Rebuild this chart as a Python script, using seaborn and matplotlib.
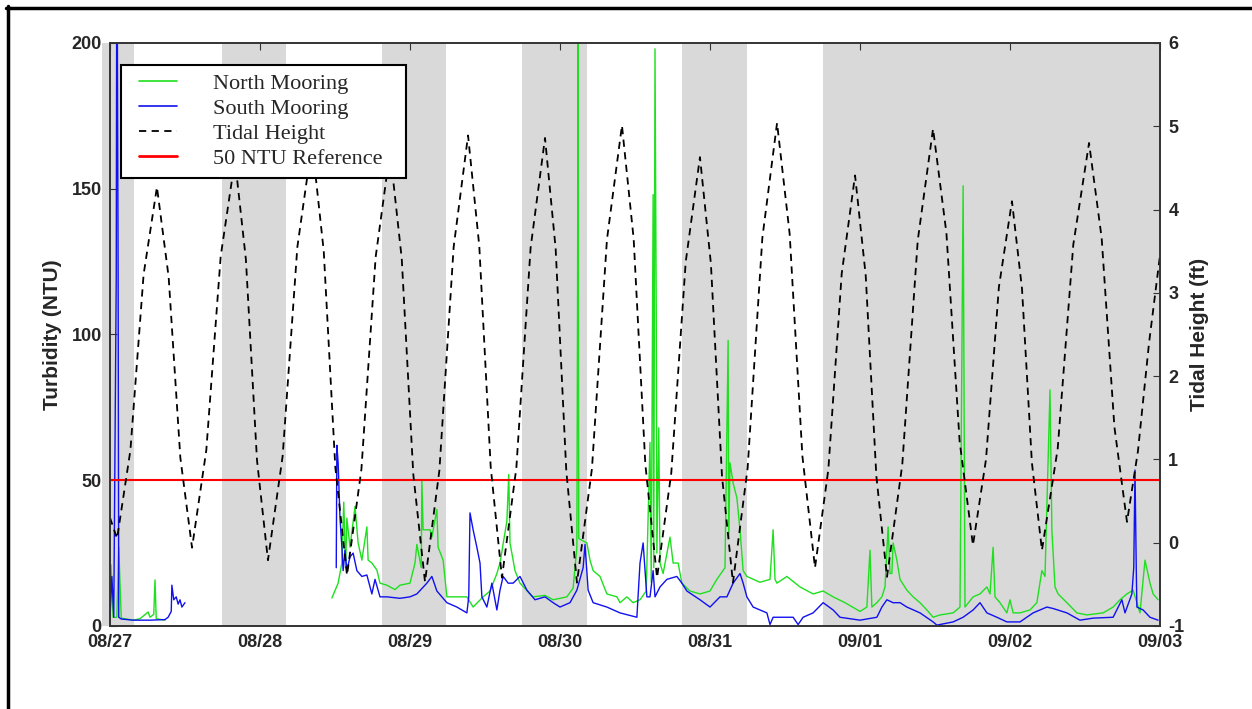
import numpy as np
import pandas as pd
import matplotlib
matplotlib.use("Agg")
import matplotlib.pyplot as plt
from matplotlib.lines import Line2D
from matplotlib.patches import Rectangle
import seaborn as sns

nan = np.nan

# ===================================
# Data (hours since 08/27 00:00)
# ===================================

north_hr = [0.0, 0.16, 0.5, 1.1, 1.4, 1.8, 3.7, 4.8, 6.1, 6.4, 7.0, 7.2, 7.4, 8.8, nan,
            35.5, 36.5, 37.1, 37.4, 37.7, 37.9, 38.4, 39.2, 39.7, 40.3,
            41.1, 41.3, 41.9, 42.7, 43.2, 44.3, 45.6, 46.4, 48.0, 48.8,
            49.1, 49.8, 49.9, 50.1, 51.2, 51.5, 52.3, 52.5, 53.3, 53.9,
            55.2, 57.1, 58.1, 59.7, 60.8, 61.9, 62.4, 63.5, 63.8, 64.0,
            64.8, 65.6, 67.2, 67.7, 69.6, 70.9, 73.1, 74.1, 74.7, 74.8,
            74.9, 75.0, 76.3, 76.8, 77.3, 78.4, 79.5, 81.1, 81.6, 82.7,
            83.7, 84.8, 85.8, 86.4, 86.6, 86.9, 87.0, 87.2, 87.4, 87.5,
            87.8, 88.0, 88.5, 89.6, 90.1, 90.9, 91.5, 92.8, 94.4, 96.0,
            97.1, 98.4, 98.9, 99.0, 99.2, 99.7, 100.3, 100.8, 101.3, 101.9,
            104.0, 105.6, 106.1, 106.4, 106.7, 108.3, 110.4, 112.5, 114.1, 115.7,
            117.6, 120.0, 121.1, 121.6, 121.9, 122.7, 123.5, 124.0, 124.5, 124.8,
            125.1, 125.3, 125.9, 126.4, 127.5, 128.5, 129.6, 130.7, 131.7, 132.8,
            134.9, 136.0, 136.5, 136.8, 138.1, 139.2, 140.3, 140.8, 141.3, 141.6,
            142.4, 143.5, 144.0, 144.5, 145.6, 147.2, 148.3, 149.1, 149.6, 150.4,
            150.7, 151.2, 151.7, 153.1, 154.7, 156.3, 158.9, 160.5, 161.6, 162.7,
            163.7, 164.8, 165.6, 166.4, 166.9, 167.7]
north_ntu = [5, 21, 3, 3, 27, 2.7, 2, 2.5, 4.8, 3, 4, 15.8, 2.5, 2, nan,
             9.6, 14.7, 21.6, 42.5, 20, 37, 27, 41, 28.5, 22.6,
             34, 22.6, 21.6, 19.2, 14.7, 14, 12.5, 14, 14.7, 21.6,
             28, 20, 50, 33, 33, 30.5, 40, 27, 22.6, 10,
             10, 10, 6.5, 10, 12, 18, 21.6, 36, 52, 28.5,
             19, 14.7, 11, 10, 10.5, 9, 10, 13, 27, 106,
             215, 30, 28.5, 22.6, 19, 17, 11, 10, 8, 10,
             8, 9, 12, 63, 15, 148, 20, 198, 107, 25,
             68, 21.6, 18, 30.5, 21.6, 21.6, 14.7, 12, 11, 12,
             16, 20, 98, 30, 56, 49, 44, 33, 19, 17,
             15, 16, 33, 16, 14.7, 17, 13.4, 11, 12, 10,
             8, 5, 6.5, 26, 6.5, 8, 10, 13.4, 34, 18,
             18, 28.5, 22.6, 16, 12.3, 10, 8, 5.5, 3, 3.8,
             4.5, 6.5, 151, 6.5, 10, 11, 13.4, 11, 27, 10,
             8, 4.5, 9, 4.5, 4.5, 5.5, 8, 19, 17, 81,
             33, 13.4, 11, 8, 4.5, 3.8, 4.5, 6.5, 9, 11,
             12.3, 4.5, 22.6, 14.7, 11, 9]

south_hr = [0.0, 0.3, 0.6, 1.0, 1.1, 1.3, 1.4, 1.8, 3.7, 6.4,
            8.8, 9.3, 9.8, 9.9, 10.2, 10.6, 10.9, 11.2, 11.5, 12.0, nan,
            36.2, 36.3, 36.5, 36.8, 37.1, 37.3, 37.6, 37.9, 38.4, 38.9,
            39.5, 40.3, 41.1, 41.9, 42.4, 43.2, 44.3, 46.4, 48.0, 49.1,
            50.7, 51.5, 52.3, 53.9, 55.5, 57.1, 57.4, 57.6, 58.1, 58.7,
            59.2, 59.5, 60.3, 61.1, 61.9, 62.4, 62.9, 63.7, 64.5, 65.6,
            66.7, 68.0, 69.6, 70.9, 72.0, 73.6, 74.7, 75.7, 76.0, 76.5,
            77.3, 79.5, 81.6, 84.3, 84.8, 85.3, 85.9, 86.4, 86.9, 87.2,
            88.0, 89.1, 90.7, 91.5, 92.3, 94.4, 96.0, 97.6, 98.7, 99.7,
            100.8, 101.3, 101.9, 102.9, 105.1, 105.6, 106.1, 106.7, 109.3, 110.1,
            110.9, 112.5, 114.1, 115.7, 116.8, 120.0, 122.7, 123.5, 124.3, 125.3,
            126.4, 127.5, 129.6, 131.7, 132.3, 134.9, 136.5, 138.1, 139.2, 140.3,
            141.9, 143.5, 145.6, 147.7, 149.9, 150.9, 153.1, 155.2, 157.3, 160.5,
            161.9, 162.4, 163.5, 163.8, 164.0, 164.2, 164.3, 165.3, 166.4, 167.7]
south_ntu = [3, 17, 3, 120, 260, 120, 3, 2.4, 2, 2,
             2.2, 3, 5, 14, 9, 10, 7.5, 9, 6.5, 8, nan,
             20, 62, 56, 37, 27, 19, 26, 19, 23.7, 25,
             19, 17, 17.5, 11, 16, 10, 10, 9.5, 10, 11,
             14.7, 17, 12, 8, 6.5, 4.5, 10, 38.8, 33, 27,
             21.6, 10, 6.5, 14.7, 5.5, 12.3, 17, 14.7, 14.7, 17,
             12.3, 9, 10, 8, 6.5, 8, 12.3, 20, 28, 12.3,
             8, 6.5, 4.5, 3, 21.6, 28.5, 10, 10, 19, 10,
             13.4, 16, 17, 14.7, 12, 9, 6.5, 10, 10, 14.7,
             18, 14.7, 10, 6.5, 4.5, 0.5, 3, 3, 3, 0.5,
             3, 4.5, 8, 5.5, 3, 2, 3, 6.5, 9, 8,
             8, 6.5, 4.5, 1.4, 0.3, 1.4, 3, 5.5, 8, 4.5,
             3, 1.4, 1.4, 4.5, 6.5, 6, 4.5, 2, 2.7, 3,
             9, 4.5, 11, 20, 53.5, 20, 6.5, 5.5, 3, 2]

# tide in days since 08/27 00:00, height in ft
tide_day = [0.000, 0.047, 0.136, 0.224, 0.313, 0.391, 0.469, 0.547, 0.642, 0.738,
            0.833, 0.906, 0.980, 1.053, 1.151, 1.249, 1.347, 1.425, 1.502, 1.580,
            1.676, 1.771, 1.867, 1.945, 2.022, 2.100, 2.196, 2.291, 2.387, 2.462,
            2.538, 2.613, 2.709, 2.804, 2.900, 2.971, 3.042, 3.113, 3.213, 3.313,
            3.413, 3.491, 3.569, 3.647, 3.742, 3.838, 3.933, 4.006, 4.080, 4.153,
            4.251, 4.349, 4.447, 4.531, 4.616, 4.700, 4.789, 4.878, 4.967, 5.038,
            5.109, 5.180, 5.282, 5.385, 5.487, 5.576, 5.664, 5.753, 5.840, 5.926,
            6.013, 6.080, 6.146, 6.213, 6.318, 6.422, 6.527, 6.611, 6.696, 6.780,
            6.853, 6.927, 7.000]
tide_ft = [0.30, 0.05, 1.11, 3.22, 4.27, 3.19, 1.02, -0.06, 1.11, 3.44,
           4.60, 3.40, 0.99, -0.21, 1.04, 3.55, 4.80, 3.50, 0.91, -0.39,
           0.88, 3.43, 4.70, 3.41, 0.82, -0.47, 0.87, 3.55, 4.89, 3.56,
           0.91, -0.42, 0.90, 3.54, 4.86, 3.53, 0.86, -0.48, 0.89, 3.64,
           5.01, 3.65, 0.94, -0.42, 0.84, 3.37, 4.63, 3.35, 0.80, -0.48,
           0.90, 3.66, 5.04, 3.71, 1.04, -0.30, 0.88, 3.23, 4.41, 3.21,
           0.80, -0.41, 0.94, 3.63, 4.97, 3.72, 1.22, -0.03, 1.00, 3.07,
           4.10, 3.05, 0.96, -0.09, 1.13, 3.58, 4.80, 3.66, 1.39, 0.25,
           1.10, 2.40, 3.45]

# night periods (hours)
night_start = [-1.3, 17.9, 43.5, 65.9, 91.5, 114.1]
night_end = [3.8, 28.2, 53.8, 76.3, 101.9, 168.0]

day_labels = ["08/27", "08/28", "08/29", "08/30", "08/31", "09/01", "09/02", "09/03"]
reference_ntu = 50


def to_frame(hr, val):
    df = pd.DataFrame({"hour": hr, "value": val})
    df["seg"] = df["value"].isna().cumsum()
    return df.dropna()


north = to_frame(north_hr, north_ntu)
south = to_frame(south_hr, south_ntu)
tide = pd.DataFrame({"hour": np.array(tide_day) * 24, "value": tide_ft})

# ===================================
# Style
# ===================================

sns.set_style("white")
plt.rcParams["font.family"] = ["Liberation Sans", "DejaVu Sans"]
plt.rcParams["axes.unicode_minus"] = False

GREEN = "#1ee01e"
BLUE = "#1010f0"

fig = plt.figure(figsize=(12.52, 7.09), dpi=100)
ax = fig.add_axes([110 / 1252, 1 - 626 / 709, 1050 / 1252, 583 / 709])

for s, e in zip(night_start, night_end):
    ax.axvspan(s, e, color="#d9d9d9", lw=0, zorder=0, clip_on=False)

sns.lineplot(data=north, x="hour", y="value", units="seg", estimator=None,
             sort=False, color=GREEN, linewidth=1.0, ax=ax)
sns.lineplot(data=south, x="hour", y="value", units="seg", estimator=None,
             sort=False, color=BLUE, linewidth=1.0, ax=ax)
ax.axhline(reference_ntu, color="red", linewidth=1.5, zorder=3)

ax.set_xlim(0, 168)
ax.set_ylim(0, 200)
ax.set_xticks(np.arange(0, 169, 24))
ax.set_xticklabels(day_labels)
ax.set_yticks([0, 50, 100, 150, 200])
ax.set_xlabel("")
ax.set_ylabel("Turbidity (NTU)", fontsize=15, fontweight="bold", labelpad=7)
ax.tick_params(direction="in", length=5, top=True, right=False,
               labelsize=13, pad=6, color="#333333")
for lab in ax.get_xticklabels() + ax.get_yticklabels():
    lab.set_fontweight("bold")

# ===================================
# Tidal Height (right axis)
# ===================================

ax2 = ax.twinx()
sns.lineplot(data=tide, x="hour", y="value", estimator=None, sort=False,
             color="black", linewidth=1.3, linestyle=(0, (4, 3)), ax=ax2)
ax2.set_ylim(-1, 6)
ax2.set_xlim(0, 168)
ax2.set_yticks(range(-1, 7))
ax2.set_ylabel("Tidal Height (ft)", fontsize=15, fontweight="bold", labelpad=4)
ax2.set_xlabel("")
ax2.tick_params(direction="in", length=5, labelsize=13, pad=6, color="#333333")
for lab in ax2.get_yticklabels():
    lab.set_fontweight("bold")

for a in (ax, ax2):
    for sp in a.spines.values():
        sp.set_color("#333333")
        sp.set_linewidth(1.2)

# ===================================
# Legend (own frame box, drawn above both axes)
# ===================================

fig.add_artist(Rectangle((121 / 1252, 1 - 178 / 709), 285 / 1252, 113 / 709,
                         transform=fig.transFigure, facecolor="white",
                         edgecolor="black", lw=1.5, zorder=4))

handles = [
    Line2D([], [], color=GREEN, lw=1.2),
    Line2D([], [], color=BLUE, lw=1.2),
    Line2D([], [], color="black", lw=1.3, ls=(0, (4, 3))),
    Line2D([], [], color="red", lw=2),
]
labels = ["North Mooring", "South Mooring", "Tidal Height", "50 NTU Reference"]
leg = fig.legend(
    handles, labels,
    loc="upper left",
    bbox_to_anchor=(139 / 1252, 1 - 73 / 709),
    bbox_transform=fig.transFigure,
    borderaxespad=0,
    borderpad=0,
    prop={"family": "Liberation Serif", "size": 16},
    handlelength=1.71,
    handletextpad=1.62,
    labelspacing=0.21,
    frameon=False,
)
leg.set_zorder(5)

# page frame (left and top edges)
fig.add_artist(Line2D([7.7 / 1252, 7.7 / 1252], [0, 1 - 6 / 709],
                      transform=fig.transFigure, color="black", lw=2.5))
fig.add_artist(Line2D([6 / 1252, 1], [1 - 7.7 / 709, 1 - 7.7 / 709],
                      transform=fig.transFigure, color="black", lw=2.5))

fig.savefig("out.png", dpi=100)
